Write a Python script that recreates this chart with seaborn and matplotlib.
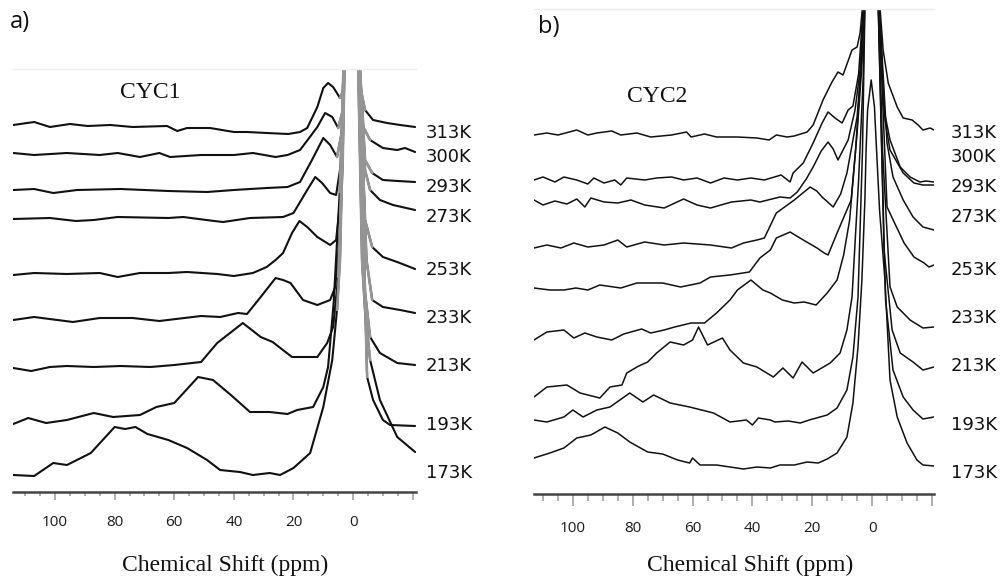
import matplotlib
matplotlib.use("Agg")
import matplotlib.pyplot as plt
import seaborn as sns
import pandas as pd
from matplotlib.ticker import FixedLocator, FixedFormatter

# ---------------- data (ppm, intensity in a.u., stacked) ----------------
temps = ["313K", "300K", "293K", "273K", "253K", "233K", "213K", "193K", "173K"]

# CYC1 spectra
a313 = [(114,367),(107,370),(101.7,365),(95,368),(89,366),(81.5,367),(74,365),(62.4,366),(59,361),(55.7,364),(48,364),(40,360),(35.6,360),(29,359),(21.8,358),(17.8,360),(15.4,364),(12,385),(10,404),(8.4,409),(6.7,405),(4.4,394),(3.5,400),(2.6,470),(0.5,470),(-1.4,470),(-2.4,405),(-4,382),(-6.7,372),(-11.4,369),(-15.8,367),(-20.8,365)]
a300 = [(114,339),(107,337),(96,339),(85,337),(79,339),(71.5,335),(65,339),(61.4,335),(51,337),(40,337),(33.6,339),(26,335),(22,337),(17.8,342),(14.5,355),(12,365),(9.4,379),(7,375),(5,364),(3.6,380),(2.6,470),(0.5,470),(-1.4,470),(-3.4,365),(-5.7,352),(-10,344),(-14.8,342),(-17.4,344),(-20.8,340)]
a293 = [(114,302),(107,303),(100.6,299),(92.6,302),(78,303),(62,301),(49,300),(40,302),(29,304),(22,305),(17.8,310),(13.8,332),(10,354),(7.7,347),(5.4,335),(3.8,360),(2.6,470),(0.5,470),(-1.4,470),(-4,332),(-6.4,319),(-10,312),(-15,311),(-20.8,310)]
a273 = [(114,273),(101.7,274),(93,271),(87,272),(79,275),(62,274),(57,275),(46.6,271),(43.6,270),(34.6,274),(23.5,275),(20,279),(18.8,285),(15.4,302),(12.7,315),(10.4,309),(7.7,299),(5.7,297),(4,330),(2.6,470),(0.5,470),(-1.4,470),(-4,322),(-5.7,302),(-9,292),(-13.4,287),(-20.8,282)]
a253 = [(114,217),(107,219),(96,218),(85,219),(79,215),(71.5,219),(62,219),(55.7,220),(45.6,218),(40,216),(33.6,219),(29,225),(26,232),(23.5,239),(20.5,259),(18,271),(15.4,265),(12,255),(7.7,247),(5.7,252),(4,300),(2.6,470),(0.5,470),(-1.4,470),(-4,272),(-6.4,245),(-10,235),(-14.8,230),(-20.8,223)]
a233 = [(114,172),(107,175),(94,170),(85,174),(74,174),(65,171),(51,176),(44.6,175),(38.6,179),(35.6,178),(31,195),(26,214),(23.5,212),(21,209),(16.8,192),(12,187),(7.7,192),(6,205),(4.4,260),(2.6,470),(0.5,470),(-1.4,470),(-4.5,232),(-6.4,192),(-10,185),(-15.8,182),(-20.8,179)]
a213 = [(114,124),(108,121),(101.7,125),(96,126),(87,125),(78,126),(68,125),(60,127),(51,130),(45.6,149),(37,169),(31,155),(27,150),(20.5,135),(12,135),(8.7,149),(6.7,165),(5,215),(3.5,330),(2.6,470),(0.5,470),(-1.4,470),(-4,200),(-5.7,155),(-9,139),(-14.8,129),(-20.8,127)]
a193 = [(114,68),(109,74),(103,69),(96,72),(87,79),(80.5,75),(71.5,77),(66,85),(60,89),(52,115),(47,112),(41,97),(34.6,80),(28,80),(22,78),(18.8,82),(13.4,85),(10,105),(8.4,125),(6.5,190),(4.5,300),(2.6,470),(0.5,470),(-1.4,470),(-3.5,250),(-4.7,115),(-6.7,92),(-10,72),(-12.4,67),(-20.8,66)]
a173 = [(114,17),(107,16),(100.6,29),(96,27),(88,39),(80,65),(76.5,63),(73,65),(69,58),(62,52),(55.7,44),(49,32),(44.6,22),(38,20),(33.6,17),(28,19),(24.5,17),(20,24),(14.4,39),(10,85),(7,132),(5.4,182),(4.4,232),(2.6,470),(0.5,470),(-1.4,470),(-3,232),(-4,182),(-5.7,132),(-9,92),(-14.8,55),(-20.8,40)]

# CYC2 spectra
b313 = [(113,359),(108.7,361),(105,359),(98.7,364),(95,359),(92,361),(87,363),(84,359),(78.6,361),(74,357),(67,359),(62,362),(60.5,357),(56,360),(52,357),(45,357),(38.5,356),(34.4,354),(32,359),(28.4,357),(26,358),(21.7,362),(19.7,369),(16.4,394),(13.4,412),(11.4,422),(9.7,419),(6.7,444),(5,447),(4,461),(2.2,520),(0.2,520),(-1.8,520),(-3.7,444),(-5.4,411),(-8.4,387),(-10.4,376),(-13.4,374),(-15.4,369),(-17,364),(-19.4,366),(-20.7,364)]
b300 = [(113,314),(110,317),(106,312),(103,317),(98.7,314),(95,310),(93,316),(89.6,311),(86,314),(84,309),(82,316),(76,314),(72,316),(67,317),(63,314),(58.5,316),(54,311),(49.5,316),(45,314),(40.5,316),(36,314),(30.4,319),(27.4,312),(26.4,321),(23,331),(19.7,351),(16.7,371),(14.7,382),(12.4,376),(10,371),(8,384),(6.4,388),(4.5,420),(2.2,520),(0.2,520),(-1.8,520),(-4,384),(-6,354),(-9.4,327),(-12.7,317),(-16,312),(-18,313),(-20.7,312)]
b293 = [(113,294),(110,289),(106,293),(102,290),(98.7,295),(96,287),(94,296),(89.6,292),(85,291),(80.6,294),(76,289),(69.5,286),(63,295),(58.5,289),(54,286),(47,292),(40.5,294),(37.5,292),(30.8,297),(27.4,296),(25,302),(22,315),(19.7,327),(17,343),(14.7,352),(13,345),(11.4,334),(8,354),(5.7,384),(4,424),(2.2,520),(0.2,520),(-1.8,520),(-4.3,374),(-6,344),(-10.4,321),(-14,311),(-17,309),(-20.7,309)]
b273 = [(113,246),(108.7,249),(104,246),(99.7,251),(95,247),(89.6,249),(85,254),(82,247),(76,252),(69.5,249),(63,251),(54,249),(47,246),(43,251),(38.5,254),(36,256),(32,281),(26,294),(20.7,307),(18.5,303),(16.7,297),(13,287),(10.5,300),(8.4,321),(5,377),(3.5,434),(2.2,520),(0.2,520),(-1.8,520),(-5,351),(-7,317),(-10.4,294),(-13.7,277),(-17,267),(-20.7,264)]
b253 = [(113,206),(107.7,204),(103,204),(99,206),(95,204),(91,209),(84,206),(78.6,211),(70,211),(64,207),(57.5,211),(54,217),(47.5,219),(41,222),(37.5,236),(34,244),(32,256),(27.4,262),(23,254),(18.4,246),(16,241),(14.7,239),(11.7,261),(7,294),(5,361),(3.5,424),(2.2,520),(0.2,520),(-1.8,520),(-5,287),(-10.7,251),(-14,237),(-17.4,231),(-19,227),(-20.7,229)]
b233 = [(113,154),(108.7,162),(103,164),(99.7,156),(96,161),(92,157),(87,154),(83,160),(77,165),(74,161),(69.5,164),(66,167),(60.5,171),(56,171),(52,181),(47.5,194),(45,204),(40.5,214),(36.5,204),(34,201),(30,194),(26,191),(22.7,192),(18.7,189),(15,201),(11.7,214),(9.5,239),(7.5,274),(5.5,344),(4,414),(2.2,520),(0.2,520),(-1.8,520),(-3.5,344),(-6,207),(-8.4,187),(-12.7,174),(-17,166),(-20.7,167)]
b213 = [(113,97),(108.7,107),(102,109),(97.6,101),(91,96),(87.6,107),(83.6,109),(82,121),(78,128),(75,132),(72,141),(67.5,152),(63,149),(60,154),(58,167),(55,149),(50,156),(47.5,144),(43,131),(38.5,127),(33,117),(29.8,126),(26.4,116),(23.4,132),(19.7,121),(14,131),(10.7,141),(8.4,164),(6.7,197),(4.5,314),(3,414),(2.2,520),(0.2,520),(-1.8,520),(-4,244),(-6.7,164),(-9.4,141),(-13.7,132),(-17,124),(-20.7,127)]
b193 = [(113,74),(108.7,72),(103,77),(100,84),(96.6,77),(92,84),(87.6,87),(81,101),(76.6,92),(73,99),(67.5,91),(61,87),(53,81),(47.5,72),(42,74),(40,69),(38,76),(34,74),(32.5,72),(28,73),(24,71),(21,74),(15,79),(11.7,86),(8.4,104),(6.4,137),(4.7,197),(3.2,344),(2.2,520),(0.2,520),(-1.8,520),(-4.5,194),(-7,124),(-10.4,97),(-13.7,84),(-17,75),(-20.7,77)]
b173 = [(113,36),(107.7,41),(103,46),(98.7,56),(94,59),(89.3,67),(85,61),(81,52),(75,42),(70,40),(65,34),(61,31),(60,36),(57.5,29),(52,29),(47.5,27),(43,25),(38.5,27),(34,26),(30.8,29),(26,29),(21.7,32),(18,31),(15,35),(11.7,41),(8.4,57),(6.4,91),(4.7,147),(3.4,214),(2.4,294),(2,344),(1.5,384),(0.3,414),(-0.8,387),(-1.5,344),(-2.5,284),(-4.3,214),(-6,114),(-8.4,77),(-11.7,51),(-15,34),(-17,29),(-20.7,28)]

cyc1 = [a313, a300, a293, a273, a253, a233, a213, a193, a173]
cyc2 = [b313, b300, b293, b273, b253, b233, b213, b193, b173]

major_ticks = [100, 80, 60, 40, 20, 0, -20]
tick_labels = ["100", "80", "60", "40", "20", "0", ""]
minor_ticks = [110, 105, 95, 90, 85, 75, 70, 65, 55, 50, 45, 35, 30, 25, 15, 10, 5, -5, -10, -15]

# ---------------- styling ----------------
sns.set_theme(style="white")
plt.rcParams["font.family"] = ["DejaVu Sans"]

fig = plt.figure(figsize=(10.08, 5.77), dpi=100)
axA = fig.add_axes([13/1008, 85/577, 403/1008, 423/577])
axB = fig.add_axes([534/1008, 83/577, 400/1008, 485/577])


def to_frame(spectra):
    rows = []
    for t, pts in zip(temps, spectra):
        for p, v in pts:
            rows.append({"ppm": p, "intensity": v, "temp": t})
    return pd.DataFrame(rows)


def style_axis(ax, xlim, ylim, majlen, minlen, pad):
    ax.set_xlim(*xlim)
    ax.set_ylim(*ylim)
    for s in ["left", "right"]:
        ax.spines[s].set_visible(False)
    ax.spines["top"].set_color("#eeeeee")
    ax.spines["top"].set_linewidth(1.0)
    ax.spines["bottom"].set_color("#444444")
    ax.spines["bottom"].set_linewidth(1.8)
    ax.set_yticks([])
    ax.set_ylabel("")
    ax.xaxis.set_major_locator(FixedLocator(major_ticks))
    ax.xaxis.set_major_formatter(FixedFormatter(tick_labels))
    ax.xaxis.set_minor_locator(FixedLocator(minor_ticks))
    ax.tick_params(axis="x", which="major", direction="out", length=majlen, width=1.1,
                   color="#999999", pad=pad, labelsize=11, labelcolor="#1a1a1a", bottom=True)
    ax.tick_params(axis="x", which="minor", direction="out", length=minlen, width=1.1,
                   color="#999999", bottom=True)
    for lab in ax.get_xticklabels():
        lab.set_fontfamily("Open Sans")
    ax.set_facecolor("white")


dfA = to_frame(cyc1)
dfB = to_frame(cyc2)
line_kw = dict(x="ppm", y="intensity", units="temp", estimator=None, sort=False, legend=False)
sns.lineplot(data=dfA, color="#111111", linewidth=1.5, ax=axA, **line_kw)
# steep central part appears grey in the scan
centre = dfA[(dfA["ppm"] <= 5.5) & (dfA["ppm"] >= -6.5)]
sns.lineplot(data=centre, color="#959595", linewidth=1.9, ax=axA, **line_kw)
sns.lineplot(data=dfB, color="#111111", linewidth=1.1, ax=axB, **line_kw)
for ax in (axA, axB):
    for ln in ax.lines:
        ln.set_solid_joinstyle("round")
        ln.set_solid_capstyle("round")

style_axis(axA, (114.1, -21.1), (0, 423), 5.8, 3.0, 11)
style_axis(axB, (113.0, -20.7), (0, 485), 8.6, 5.0, 10.5)

axA.set_xlabel("Chemical Shift (ppm)", fontfamily="Liberation Serif", fontsize=17, color="#111111")
axA.xaxis.label.set_va("center")
axA.xaxis.set_label_coords((225-13)/403, (492-565)/423)
axB.set_xlabel("Chemical Shift (ppm)", fontfamily="Liberation Serif", fontsize=17, color="#111111")
axB.xaxis.label.set_va("center")
axB.xaxis.set_label_coords((750-534)/400, (494-565)/485)

# panel letters and titles
fig.text(20/1008, 1-22/577, "a)", ha="center", va="center", fontsize=17, fontfamily="Open Sans", color="#111111")
fig.text(549/1008, 1-27/577, "b)", ha="center", va="center", fontsize=17, fontfamily="Open Sans", color="#111111")
fig.text(150/1008, 1-92/577, "CYC1", ha="center", va="center", fontsize=17, fontfamily="Liberation Serif", color="#111111")
fig.text(657/1008, 1-97/577, "CYC2", ha="center", va="center", fontsize=17, fontfamily="Liberation Serif", color="#111111")

# temperature labels
label_rows = [133, 157, 187, 217, 270, 318, 366, 425, 473]
for t, ypx in zip(temps, label_rows):
    fig.text(426/1008, 1-ypx/577, t, ha="left", va="center", fontsize=13,
             fontfamily="DejaVu Sans", color="#111111")
    fig.text(951/1008, 1-ypx/577, t, ha="left", va="center", fontsize=13,
             fontfamily="DejaVu Sans", color="#111111")

fig.savefig("out.png", dpi=100, facecolor="white")
